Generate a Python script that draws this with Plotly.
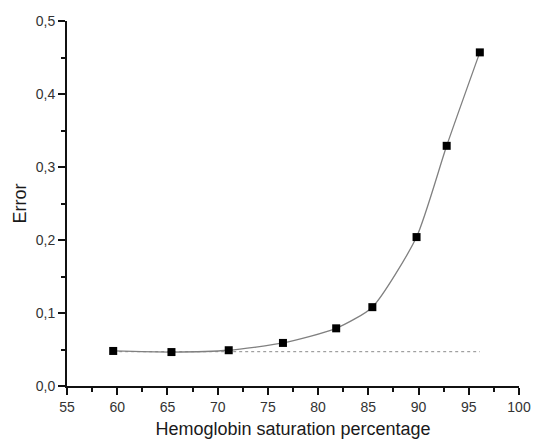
import plotly.graph_objects as go

# Hemoglobin saturation (%) and corresponding error
saturation = [59.6, 65.4, 71.1, 76.5, 81.8, 85.4, 89.8, 92.8, 96.1]
error = [0.048, 0.0465, 0.049, 0.059, 0.079, 0.108, 0.204, 0.329, 0.457]

# Baseline error level, drawn across the measured range
baseline_level = 0.047

x_range = [55, 100]
y_range = [0, 0.5]
x_step, x_minor_step = 5, 2.5
y_step, y_minor_step = 0.1, 0.05

fig = go.Figure()

fig.add_trace(go.Scatter(
    x=[saturation[0], saturation[-1]],
    y=[baseline_level, baseline_level],
    mode="lines",
    line=dict(color="#8a8a8a", width=1, dash="dot"),
    showlegend=False,
    hoverinfo="skip",
))

fig.add_trace(go.Scatter(
    x=saturation,
    y=error,
    mode="lines+markers",
    line=dict(color="#808080", width=1.3, shape="spline", smoothing=0.6),
    marker=dict(symbol="square", size=8, color="black"),
    showlegend=False,
))

font_family = "Liberation Sans, Arial, sans-serif"
axis_color = "#111111"

common = dict(
    ticks="outside",
    ticklen=7,
    tickwidth=2,
    tickcolor=axis_color,
    showline=True,
    linecolor=axis_color,
    linewidth=2,
    showgrid=False,
    zeroline=False,
    automargin=False,
    tickfont=dict(family=font_family, size=14, color="#333"),
)

fig.update_xaxes(
    range=x_range, tick0=55, dtick=x_step,
    minor=dict(ticks="outside", tick0=55, dtick=x_minor_step, ticklen=4,
               tickwidth=2, tickcolor=axis_color, showgrid=False),
    title=dict(text="Hemoglobin saturation percentage",
               font=dict(family=font_family, size=18, color="#1a1a1a"), standoff=9),
    **common,
)

fig.update_yaxes(
    range=y_range, tick0=0, dtick=y_step, tickformat=".1f",
    minor=dict(ticks="outside", tick0=0, dtick=y_minor_step, ticklen=4,
               tickwidth=2, tickcolor=axis_color, showgrid=False),
    title=dict(text="Error", font=dict(family=font_family, size=18, color="#1a1a1a"), standoff=4),
    **common,
)

fig.update_layout(
    width=535,
    height=441,
    margin=dict(l=67, r=16, t=21, b=55),
    separators=",.",
    plot_bgcolor="white",
    paper_bgcolor="white",
)

fig.write_html("out.html")
